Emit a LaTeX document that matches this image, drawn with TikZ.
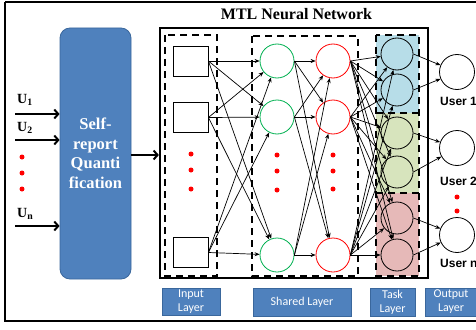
\documentclass[tikz,border=0pt]{standalone}
\usepackage{fontspec}
\setmainfont{Liberation Serif}
\newfontfamily\labelfont{Carlito}
\newfontfamily\userfont{Liberation Sans}
\usetikzlibrary{arrows.meta}

\definecolor{boxblue}{HTML}{4F81BD}
\definecolor{boxedge}{HTML}{3A679C}
\definecolor{taskblue}{HTML}{B7DDE8}
\definecolor{taskgreen}{HTML}{D7E4BD}
\definecolor{taskpink}{HTML}{E6B9B8}
\definecolor{nodegreen}{HTML}{00B050}
\definecolor{nodered}{HTML}{FF0000}

\tikzset{
  quantbox/.style={draw=boxedge, line width=0.8pt, fill=boxblue, rounded corners=10pt,
    minimum width=71pt, minimum height=251pt, inner sep=0pt, text=white, align=center,
    font=\bfseries\fontsize{16.5}{19.5}\selectfont},
  inbox/.style={draw, line width=0.8pt, fill=white, minimum width=35pt, minimum height=30pt, inner sep=0pt},
  gcirc/.style={circle, draw=nodegreen, line width=0.8pt, minimum size=34pt, inner sep=0pt},
  rcirc/.style={circle, draw=nodered, line width=0.8pt, minimum size=34pt, inner sep=0pt},
  tcirc/.style={circle, draw=black, line width=0.8pt, minimum size=32pt, inner sep=0pt},
  ocirc/.style={circle, draw=black, line width=0.8pt, minimum size=35pt, inner sep=0pt, fill=white},
  reddot/.style={circle, fill=nodered, minimum size=5pt, inner sep=0pt},
  laybox/.style={draw=boxedge, line width=0.8pt, fill=boxblue, inner sep=0pt, text=white,
    align=center, font=\labelfont\fontsize{12}{14}\selectfont},
  dashbox/.style={line width=2.2pt, dash pattern=on 7pt off 5pt},
  conn/.style={line width=0.7pt, -{Stealth[length=5pt,width=4pt]}},
  bigarrow/.style={line width=2pt, -{Straight Barb[length=4pt,width=9pt,line width=2pt]}},
  ulabel/.style={anchor=west, inner sep=0pt, font=\bfseries\fontsize{14}{16}\selectfont},
  userlabel/.style={anchor=west, inner sep=0pt, font=\userfont\bfseries\fontsize{12}{14}\selectfont},
}

\begin{document}
\begin{tikzpicture}[x=1pt, y=-1pt]
\useasboundingbox (0,0) rectangle (476,329);

% outer frame (runs off to the right)
\draw[line width=1.5pt] (5,2) -- (490,2);
\draw[line width=1.5pt] (5,2) -- (5,321) -- (490,321);

% quantification block and user inputs
\node[quantbox] (quant) at (95.5,153.5) {Self-\\report\\Quanti\\fication};

\node[ulabel] (ul1) at (17,100) {U\textsubscript{1}};
\node[ulabel] (ul2) at (17,128) {U\textsubscript{2}};
\node[ulabel] (uln) at (17,214) {U\textsubscript{n}};
\coordinate (us1) at (15,114);
\coordinate (us2) at (15,140);
\coordinate (usn) at (15,226);
\draw[bigarrow] (us1) -- (us1 -| quant.west);
\draw[bigarrow] (us2) -- (us2 -| quant.west);
\draw[bigarrow] (usn) -- (usn -| quant.west);
\node[reddot] (ld1) at (22,157) {};
\node[reddot] (ld2) at (22,173) {};
\node[reddot] (ld3) at (22,189) {};

% network frame and title
\node[font=\bfseries\fontsize{16}{18}\selectfont, inner sep=0pt] (title) at (296.5,14) {MTL Neural Network};
\node[draw, line width=2.2pt, minimum width=268pt, minimum height=250pt, inner sep=0pt] (net) at (294,153) {};
\coordinate (qout) at (quant.east |- 0,155);
\draw[bigarrow] (qout) -- (qout -| net.west);

% task-layer colour bands
\fill[taskblue] (376,35) rectangle (419,113);
\fill[taskgreen] (376,113) rectangle (419,193);
\fill[taskpink] (376,193) rectangle (419,276);

% layer groupings
\draw[dashbox] (165,35) rectangle (217,276);
\draw[dashbox] (252,36) rectangle (358,276);
\draw[dashbox] (376,35) rectangle (419,276);
\draw[dashbox] (376,113) -- (419,113);
\draw[dashbox] (376,193) -- (419,193);

% input layer
\node[inbox] (i1) at (190.5,61) {};
\node[inbox] (i2) at (190.5,117.5) {};
\node[inbox] (i3) at (190.5,252.5) {};
\node[reddot] (id1) at (191,154) {};
\node[reddot] (id2) at (191,170) {};
\node[reddot] (id3) at (191,189) {};

% shared layers
\node[gcirc] (g1) at (277,61) {};
\node[gcirc] (g2) at (277,117) {};
\node[gcirc] (g3) at (277,255) {};
\node[rcirc] (r1) at (333,61) {};
\node[rcirc] (r2) at (333,117) {};
\node[rcirc] (r3) at (333,255) {};
\foreach \c/\y in {gd1/155, gd2/171, gd3/190} \node[reddot] (\c) at (277,\y) {};
\foreach \c/\y in {rd1/155, rd2/171, rd3/189} \node[reddot] (\c) at (333,\y) {};

% task layer
\node[tcirc] (t1) at (397,54) {};
\node[tcirc] (t2) at (397,90) {};
\node[tcirc] (t3) at (397,133) {};
\node[tcirc] (t4) at (397,172) {};
\node[tcirc] (t5) at (397,218) {};
\node[tcirc] (t6) at (397,255) {};

% output layer
\node[ocirc] (o1) at (457,72) {};
\node[ocirc] (o2) at (457,148) {};
\node[ocirc] (o3) at (457,235) {};
\node[userlabel] (ol1) at (440,101) {User 1};
\node[userlabel] (ol2) at (440,181) {User 2};
\node[userlabel] (ol3) at (440,263) {User n};
\node[reddot] (od1) at (457,197) {};
\node[reddot] (od2) at (457,211) {};

% connections
\foreach \a in {1,2,3} \foreach \b in {1,2,3} \draw[conn] (i\a.east) -- (g\b);
\foreach \a in {1,2,3} \foreach \b in {1,2,3} \draw[conn] (g\a.east) -- (r\b);
\foreach \a in {1,2,3} \foreach \b in {1,...,6} \draw[conn] (r\a.east) -- (t\b);
\draw[conn] (t1.east) -- (o1);
\draw[conn] (t2.east) -- (o1);
\draw[conn] (t3.east) -- (o2);
\draw[conn] (t4.east) -- (o2);
\draw[conn] (t5.east) -- (o3);
\draw[conn] (t6.east) -- (o3);

% layer captions
\node[laybox, minimum width=58pt, minimum height=27pt] (cin) at (191,301.5) {Input\\Layer};
\node[laybox, minimum width=98pt, minimum height=28pt] (csh) at (302,302) {Shared Layer};
\node[laybox, minimum width=45pt, minimum height=28pt] (cta) at (392.5,302) {Task\\Layer};
\node[laybox, minimum width=52pt, minimum height=28pt] (cou) at (451,302) {Output\\Layer};
\end{tikzpicture}
\end{document}
